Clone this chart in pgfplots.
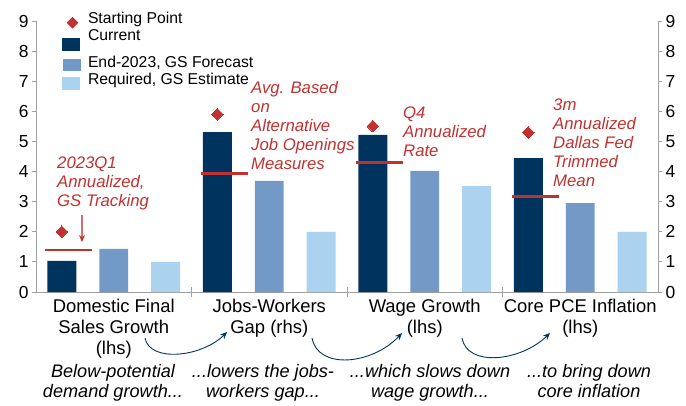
\documentclass[border=0pt]{standalone}
\usepackage{pgfplots}
\pgfplotsset{compat=1.18}
\usetikzlibrary{arrows.meta}
\usepackage{fontspec}
\setmainfont{Liberation Sans}

\definecolor{cNavy}{RGB}{0,52,94}
\definecolor{cMid}{RGB}{115,153,198}
\definecolor{cLight}{RGB}{171,211,239}
\definecolor{cRed}{RGB}{192,49,47}
\definecolor{cAxis}{RGB}{160,160,160}
\newcommand{\fs}[2]{\fontsize{#1}{#2}\selectfont}

\begin{document}
\begin{tikzpicture}
% page = 686 x 406 px, axis box from px (36,21) to (658,292)
\path[use as bounding box] (-36bp,-114bp) rectangle (650bp,292bp);

\begin{axis}[
    at={(0,0)}, anchor=south west,
    scale only axis, width=622bp, height=271bp,
    xmin=-0.5, xmax=3.5, ymin=0, ymax=9,
    axis x line*=bottom, axis y line*=left,
    axis line style={cAxis, line width=0.8bp},
    tick style={cAxis, line width=0.8bp},
    major tick length=4bp, tick align=outside,
    ytick={0,1,...,9},
    xtick={0,1,2,3},
    xticklabels={{Domestic Final\\Sales Growth\\(lhs)}, {Jobs-Workers\\Gap (rhs)},
                 {Wage Growth\\(lhs)}, {Core PCE Inflation\\(lhs)}},
    xtick style={draw=none},
    xticklabel style={align=center, font=\fs{18.5}{20.7}, text=black},
    extra x ticks={0.5,1.5,2.5}, extra x tick labels={},
    extra x tick style={grid=none, xtick style={draw=cAxis}, major tick length=10bp, tick align=center},
    yticklabel style={font=\fs{17.5}{20}, text=black},
    /pgf/number format/assume math mode=true,
    clip=false,
    legend style={at={(0,1)}, anchor=north west, xshift=26bp, yshift=9bp,
        draw=none, fill=none, inner sep=0pt, outer sep=0pt,
        column sep=7bp, row sep=0pt,
        font=\fs{15.8}{18},
        nodes={inner sep=0pt, text height=11bp, text depth=6bp}},
    legend cell align=left,
]
% legend
\addlegendimage{legend image code/.code={
    \path[draw=none, fill=none] (0,-6bp) rectangle (18bp,6bp);
    \fill[cRed, draw=none] (10.5bp,-8bp) -- (16.3bp,-2.2bp) -- (10.5bp,3.6bp) -- (4.7bp,-2.2bp) -- cycle;}}
\addlegendentry{Starting Point}
\addlegendimage{legend image code/.code={
    \fill[cNavy, draw=none] (0,-8bp) rectangle (18bp,4.5bp);}}
\addlegendentry[text depth=16bp]{Current}
\addlegendimage{legend image code/.code={
    \fill[cMid, draw=none] (1bp,-6bp) rectangle (19bp,6bp);}}
\addlegendentry{End-2023, GS Forecast}
\addlegendimage{legend image code/.code={
    \fill[cLight, draw=none] (0,-8bp) rectangle (18bp,4.5bp);}}
\addlegendentry{Required, GS Estimate}

% Current
\addplot[ybar, bar width=0.186, bar shift=0pt, fill=cNavy, draw=none, forget plot]
    coordinates {(-0.334,1.03) (0.666,5.31) (1.666,5.22) (2.666,4.45)};
% End-2023, GS Forecast
\addplot[ybar, bar width=0.186, bar shift=0pt, fill=cMid, draw=none, forget plot]
    coordinates {(0,1.43) (1,3.69) (2,4.02) (3,2.95)};
% Required, GS Estimate
\addplot[ybar, bar width=0.186, bar shift=0pt, fill=cLight, draw=none, forget plot]
    coordinates {(0.334,1.0) (1.334,2.0) (2.334,3.52) (3.334,2.0)};

% red reference lines
\addplot[cRed, line width=2.3bp, forget plot] coordinates {(-0.44,1.40) (-0.138,1.40)};
\addplot[cRed, line width=2.3bp, forget plot] coordinates {(0.56,3.94) (0.862,3.94)};
\addplot[cRed, line width=2.3bp, forget plot] coordinates {(1.56,4.30) (1.862,4.30)};
\addplot[cRed, line width=2.3bp, forget plot] coordinates {(2.56,3.17) (2.862,3.17)};

% starting points
\addplot[cRed, only marks, mark=square*, mark size=4.1bp,
    mark options={rotate=45, fill=cRed, draw=cRed, line width=0pt}, forget plot]
    coordinates {(-0.334,2.0) (0.666,5.9) (1.666,5.51) (2.666,5.3)};
\end{axis}

% right-hand axis
\begin{axis}[
    at={(0,0)}, anchor=south west,
    scale only axis, width=622bp, height=271bp,
    xmin=-0.5, xmax=3.5, ymin=0, ymax=9,
    axis x line=none, axis y line*=right,
    axis line style={cAxis, line width=0.8bp},
    tick style={cAxis, line width=0.8bp},
    major tick length=4bp, tick align=outside,
    ytick={0,1,...,9},
    yticklabel style={font=\fs{17.5}{20}, text=black},
    /pgf/number format/assume math mode=true,
]
\addplot[draw=none, forget plot] coordinates {(0,0)};
\end{axis}

% annotations (1bp = 1px, origin at axis lower left)
\begin{scope}[every node/.style={inner sep=0pt, align=left, anchor=north west,
        text=cRed, font=\fs{16.8}{19}\itshape}]
\node at (21bp,135bp) {2023Q1\\Annualized,\\GS Tracking};
\node at (215bp,211bp) {Avg. Based\\on\\Alternative\\Job Openings\\Measures};
\node at (367bp,185bp) {Q4\\Annualized\\Rate};
\node at (517bp,193bp) {3m\\Annualized\\Dallas Fed\\Trimmed\\Mean};
\end{scope}
\draw[cRed!70, line width=1.2bp, -{Stealth[length=7bp, width=6bp, color=cRed]}] (46bp,77bp) -- (46bp,50bp);

\begin{scope}[every node/.style={inner sep=0pt, align=center, anchor=north,
        text=black, font=\fs{18.2}{20}\itshape}]
\node at (77bp,-72bp) {Below-potential\\demand growth...};
\node at (227bp,-72bp) {...lowers the jobs-\\workers gap...};
\node at (394bp,-72bp) {...which slows down\\wage growth...};
\node at (553bp,-72bp) {...to bring down\\core inflation};
\end{scope}

\begin{scope}[cNavy, line width=0.9bp, -{Stealth[length=7bp, width=6bp]}]
\draw (109bp,-46bp) .. controls (114bp,-71bp) and (166bp,-65bp) .. (191bp,-40bp);
\draw (276bp,-46bp) .. controls (282bp,-78bp) and (336bp,-73bp) .. (366bp,-41bp);
\draw (426bp,-46bp) .. controls (431bp,-75bp) and (484bp,-70bp) .. (514bp,-41bp);
\end{scope}
\end{tikzpicture}
\end{document}
